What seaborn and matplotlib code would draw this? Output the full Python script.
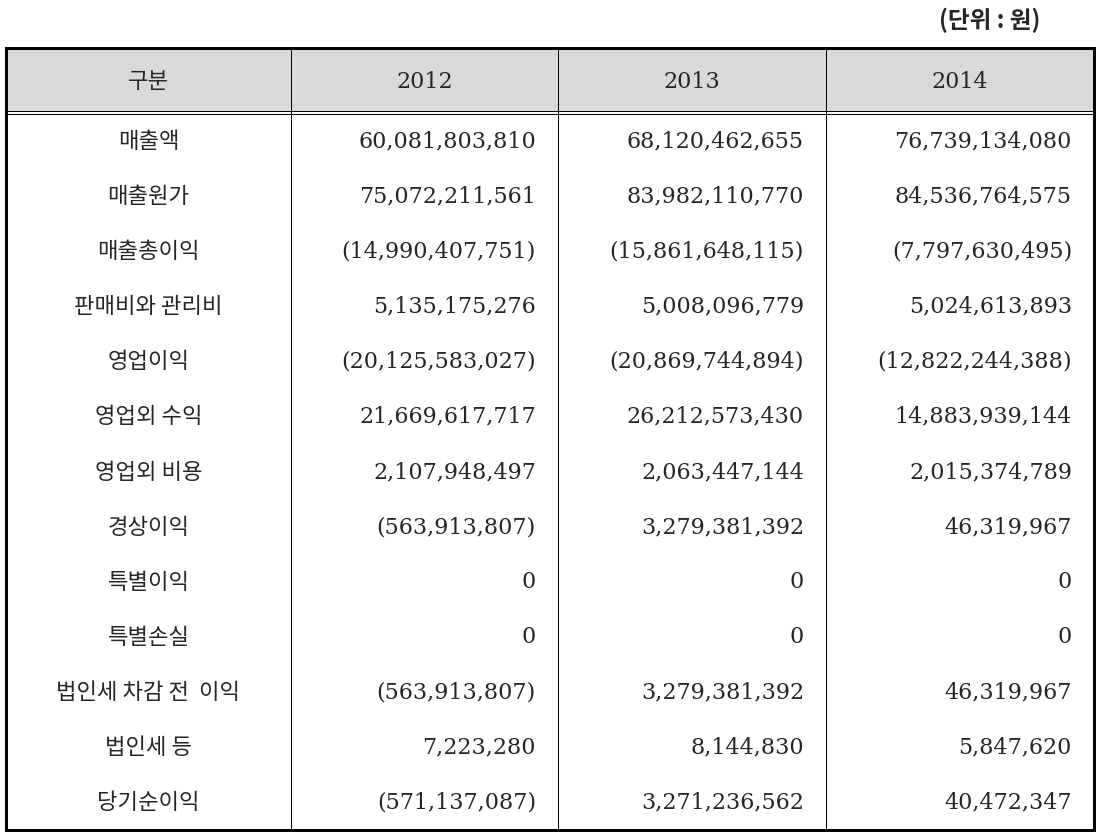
import pandas as pd
import matplotlib.pyplot as plt
import seaborn as sns
from matplotlib.patches import Rectangle

# Table data (단위: 원)
items = ['매출액', '매출원가', '매출총이익', '판매비와 관리비', '영업이익', '영업외 수익',
         '영업외 비용', '경상이익', '특별이익', '특별손실', '법인세 차감 전  이익',
         '법인세 등', '당기순이익']
years = ['2012', '2013', '2014']
y2012 = [60081803810, 75072211561, -14990407751, 5135175276, -20125583027, 21669617717,
         2107948497, -563913807, 0, 0, -563913807, 7223280, -571137087]
y2013 = [68120462655, 83982110770, -15861648115, 5008096779, -20869744894, 26212573430,
         2063447144, 3279381392, 0, 0, 3279381392, 8144830, 3271236562]
y2014 = [76739134080, 84536764575, -7797630495, 5024613893, -12822244388, 14883939144,
         2015374789, 46319967, 0, 0, 46319967, 5847620, 40472347]

df = pd.DataFrame({'구분': items, '2012': y2012, '2013': y2013, '2014': y2014})


def fmt(v):
    # negative numbers shown in parentheses
    return f'({-v:,})' if v < 0 else f'{v:,}'


sns.set_theme(style='white')
plt.rcParams['font.family'] = ['DejaVu Serif', 'Noto Sans CJK KR']

fig = plt.figure(figsize=(11.01, 8.38), dpi=100)
ax = fig.add_axes([0, 0, 1, 1])
ax.set_xlim(0, 1101)
ax.set_ylim(838, 0)
ax.axis('off')

# layout in pixels
left, right = 6, 1094
top, head_bot, bottom = 48, 111, 830
col_edges = [left, 291, 558, 826, right]
px = 0.72  # one pixel in points

ax.add_patch(Rectangle((left, top), right - left, head_bot - top,
                       facecolor='#d9d9d9', edgecolor='none'))
for x in col_edges[1:-1]:
    ax.plot([x, x], [top, bottom], color='black', lw=px)
ax.plot([left, right], [head_bot, head_bot], color='black', lw=px)
ax.plot([left, right], [head_bot + 3, head_bot + 3], color='black', lw=px)
ax.add_patch(Rectangle((left, top), right - left, bottom - top,
                       facecolor='none', edgecolor='black', lw=3 * px))

ax.text(1040, 20, '(단위 : 원)', ha='right', va='center', fontsize=17,
        fontweight='bold', family=['Noto Sans CJK KR', 'DejaVu Sans'])

# header
header = ['구분'] + years
for i, h in enumerate(header):
    cx = (col_edges[i] + col_edges[i + 1]) / 2
    ax.text(cx, (top + head_bot) / 2 + 2, h, ha='center', va='center', fontsize=16,
            family=['Noto Sans CJK KR'] if i == 0 else ['DejaVu Serif'])

# body
row_top = head_bot + 3
row_h = (bottom - row_top) / len(df)
for r, row in df.iterrows():
    cy = row_top + (r + 0.5) * row_h
    ax.text((col_edges[0] + col_edges[1]) / 2, cy, row['구분'], ha='center', va='center',
            fontsize=16, family=['Noto Sans CJK KR'])
    for j, y in enumerate(years):
        ax.text(col_edges[j + 2] - 22, cy, fmt(row[y]), ha='right', va='center',
                fontsize=16, family=['DejaVu Serif'])

fig.savefig('out.png', dpi=100)
